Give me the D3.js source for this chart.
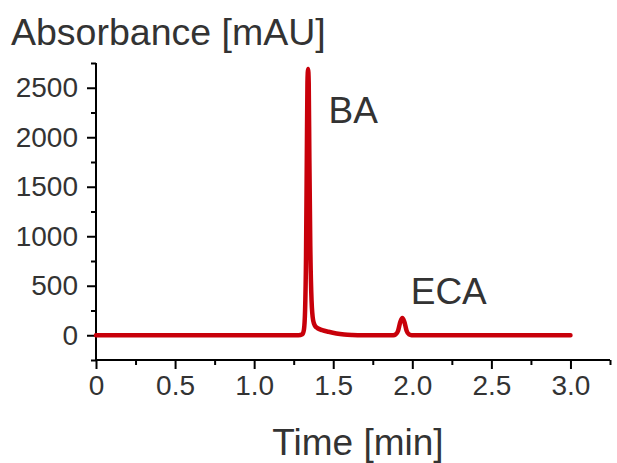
<!DOCTYPE html>
<meta charset="utf-8">
<script src="https://d3js.org/d3.v7.min.js"></script>
<style>
  body { margin: 0; background: #fff; }
  text { font-family: "Liberation Sans", Arial, sans-serif; fill: #333; }
</style>
<div id="chart"></div>
<script>
// chromatogram (time in min, absorbance in mAU)
var time = [0, 0.25, 0.5, 0.75, 1.0, 1.25, 1.28, 1.305, 1.315, 1.322, 1.328, 1.333, 1.337, 1.341, 1.345, 1.349, 1.355, 1.363, 1.373, 1.385, 1.40, 1.43, 1.47, 1.52, 1.57, 1.62, 1.68, 1.75, 1.85, 1.88, 1.895, 1.91, 1.925, 1.937, 1.949, 1.964, 1.979, 1.995, 2.25, 2.5, 2.75, 3.0];
var absorbance = [0, 0, 1, 1, 0, 0, 0, 10, 60, 250, 800, 1800, 2550, 2690, 2550, 1800, 900, 350, 150, 95, 72, 52, 35, 18, 8, 3, 0, 0, 0, 0, 8, 45, 140, 175, 140, 45, 8, 0, 0, 0, 0, 0];

var xMajor = [0, 0.5, 1.0, 1.5, 2.0, 2.5, 3.0];
var xMinor = [0.25, 0.75, 1.25, 1.75, 2.25, 2.75, 3.25];
var yMajor = [0, 500, 1000, 1500, 2000, 2500];
var yMinor = [-250, 250, 750, 1250, 1750, 2250, 2750];

var peakNames = ["BA", "ECA"];
var peakLabelAt = [[1.47, 2140], [1.99, 320]];

var margin = {top: 63, right: 7, bottom: 103, left: 96},
    width = 617 - margin.left - margin.right,
    height = 463 - margin.top - margin.bottom;

var svg = d3.select("#chart")
  .append("svg")
    .attr("width", 617)
    .attr("height", 463)
  .append("g")
    .attr("transform", "translate(" + margin.left + "," + margin.top + ")");

var x = d3.scaleLinear().domain([0, 3.25]).range([0, width]);
var y = d3.scaleLinear().domain([-250, 2750]).range([height, 0]);

// x axis
var xAxis = svg.append("g")
    .attr("transform", "translate(0," + height + ")")
    .call(d3.axisBottom(x).tickValues(xMajor).tickSize(9).tickPadding(6)
      .tickFormat(function(d) { return d === 0 ? "0" : d3.format(".1f")(d); }));
svg.append("g")
    .attr("transform", "translate(0," + height + ")")
    .call(d3.axisBottom(x).tickValues(xMinor).tickSize(5).tickFormat(""))
    .select(".domain").remove();

// y axis
var yAxis = svg.append("g")
    .call(d3.axisLeft(y).tickValues(yMajor).tickSize(9).tickPadding(9)
      .tickFormat(d3.format("d")));
svg.append("g")
    .call(d3.axisLeft(y).tickValues(yMinor).tickSize(5).tickFormat(""))
    .select(".domain").remove();

svg.selectAll(".domain").attr("stroke", "#000").attr("stroke-width", 2);
svg.selectAll(".tick line").attr("stroke", "#000").attr("stroke-width", 2);
svg.selectAll(".tick text").style("font-size", "28px").attr("fill", "#333");
xAxis.selectAll(".domain").attr("d", "M0,0H" + width);
yAxis.selectAll(".domain").attr("d", "M0," + height + "V0");

// trace
var points = time.map(function(t, i) { return [t, absorbance[i]]; });
svg.append("path")
    .datum(points)
    .attr("fill", "none")
    .attr("stroke", "#c8000a")
    .attr("stroke-width", 4.5)
    .attr("stroke-linejoin", "round")
    .attr("stroke-linecap", "round")
    .attr("d", d3.line()
      .x(function(d) { return x(d[0]); })
      .y(function(d) { return y(d[1]); })
      .curve(d3.curveMonotoneX));

// peak labels
svg.selectAll(".peak")
  .data(peakNames)
  .enter()
  .append("text")
    .attr("x", function(d, i) { return x(peakLabelAt[i][0]); })
    .attr("y", function(d, i) { return y(peakLabelAt[i][1]); })
    .style("font-size", "37px")
    .text(function(d) { return d; });

// axis titles
svg.append("text")
    .attr("x", 11 - margin.left)
    .attr("y", 45 - margin.top)
    .style("font-size", "37.5px")
    .text("Absorbance [mAU]");

svg.append("text")
    .attr("x", 358 - margin.left)
    .attr("y", 455 - margin.top)
    .attr("text-anchor", "middle")
    .style("font-size", "37px")
    .text("Time [min]");
</script>
